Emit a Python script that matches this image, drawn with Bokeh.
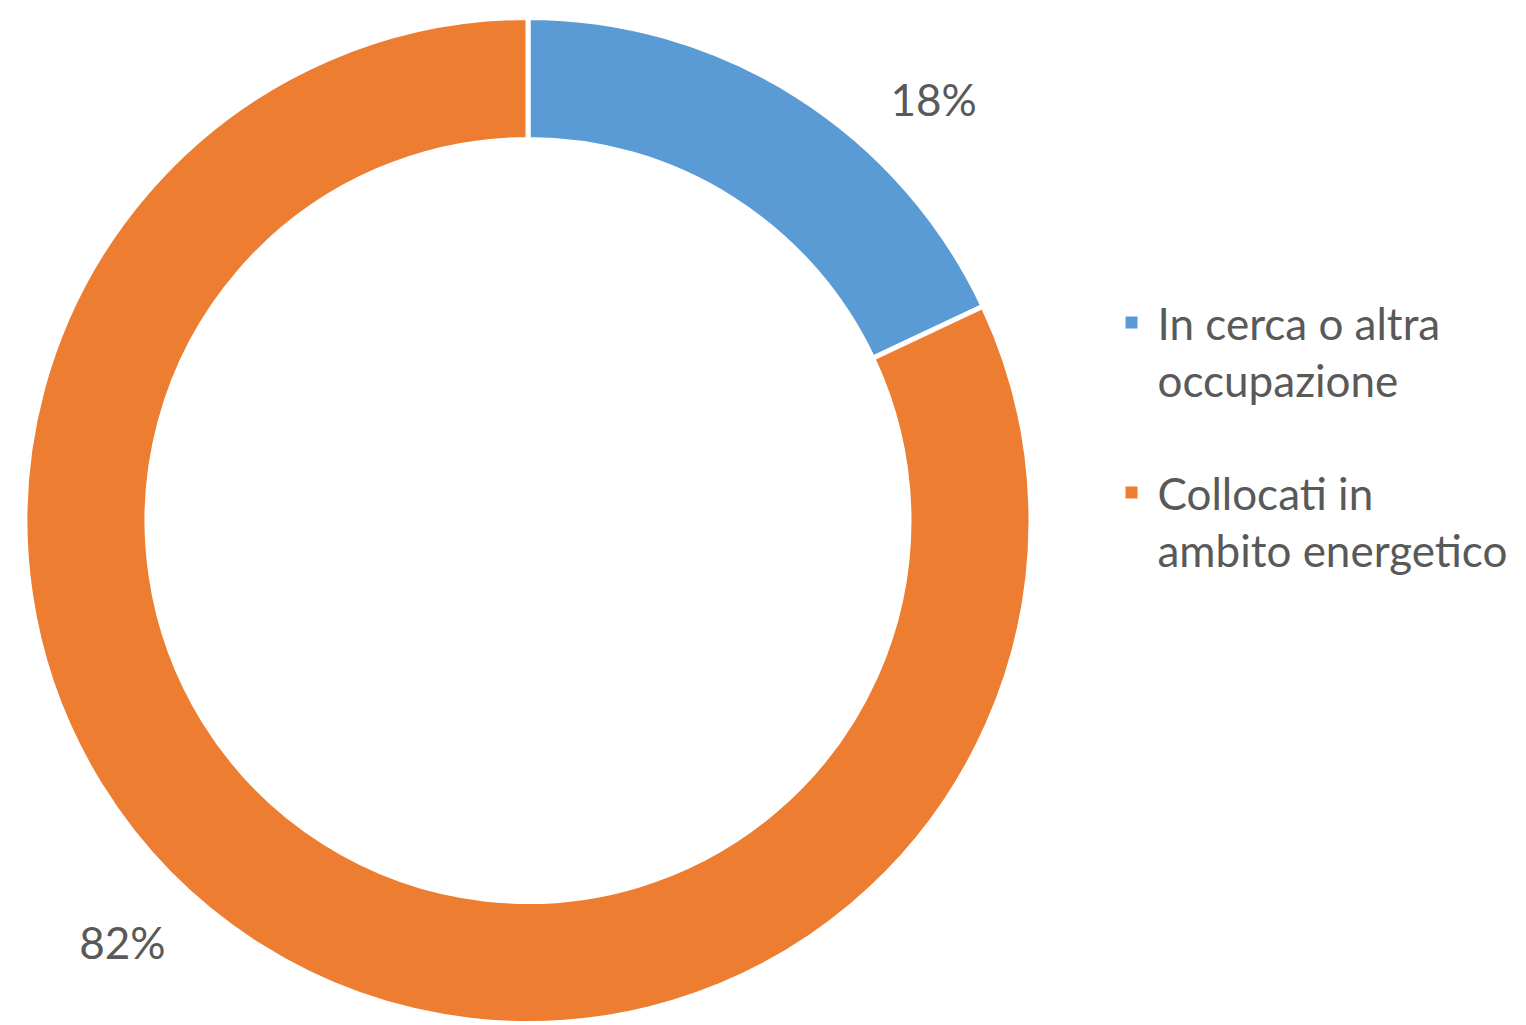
import numpy as np
from bokeh.plotting import figure
from bokeh.models import Range1d, ColumnDataSource
from bokeh.core.properties import value
from bokeh.embed import file_html
from bokeh.resources import INLINE

# ---- data ----
categories = ["In cerca o altra\noccupazione", "Collocati in\nambito energetico"]
shares = [18, 82]
colors = ["#5B9BD5", "#ED7D31"]
pct_labels = ["18%", "82%"]

# ---- layout constants (pixels) ----
W, H = 1526, 1025
CX, CY = 527.5, H - 520
R_OUT, R_IN = 503, 381
FONT = "Lato"
TXT = "#595959"
FS = "44px"

p = figure(width=W, height=H, output_backend="svg", toolbar_location=None,
           x_range=Range1d(0, W), y_range=Range1d(0, H), min_border=0)
p.axis.visible = False
p.grid.visible = False
p.outline_line_color = None
p.background_fill_color = "white"

fr = np.array(shares, dtype=float) / sum(shares)
cum = np.concatenate([[0], np.cumsum(fr)])
start = np.pi / 2 - 2 * np.pi * cum[:-1]
end = np.pi / 2 - 2 * np.pi * cum[1:]

src = ColumnDataSource(dict(start=start, end=end, color=colors))
p.annular_wedge(x=CX, y=CY, inner_radius=R_IN, outer_radius=R_OUT,
                start_angle="start", end_angle="end", direction="clock",
                fill_color="color", line_color="white", line_width=5, source=src)

# percentage labels placed outside the ring
mid = (start + end) / 2
label_ang = mid - np.radians(11.5)
label_r = 585
lx = CX + label_r * np.cos(label_ang)
ly = CY + label_r * np.sin(label_ang)
p.text(x=lx, y=ly, text=pct_labels, text_font=value(FONT), text_font_size=FS,
       text_color=TXT, text_align="center", text_baseline="middle")

# legend
LEG_X, LEG_Y0, LEG_STEP, LINE_H = 1131, H - 322, 170, 57
for i, (cat, col) in enumerate(zip(categories, colors)):
    y0 = LEG_Y0 - i * LEG_STEP
    p.rect(x=LEG_X, y=y0, width=12, height=12, fill_color=col, line_color=None)
    for j, line in enumerate(cat.split("\n")):
        p.text(x=[LEG_X + 26], y=[y0 - j * LINE_H], text=[line],
               text_font=value(FONT), text_font_size=FS, text_color=TXT,
               text_align="left", text_baseline="middle")

open("out.html", "w").write(file_html(p, INLINE))
